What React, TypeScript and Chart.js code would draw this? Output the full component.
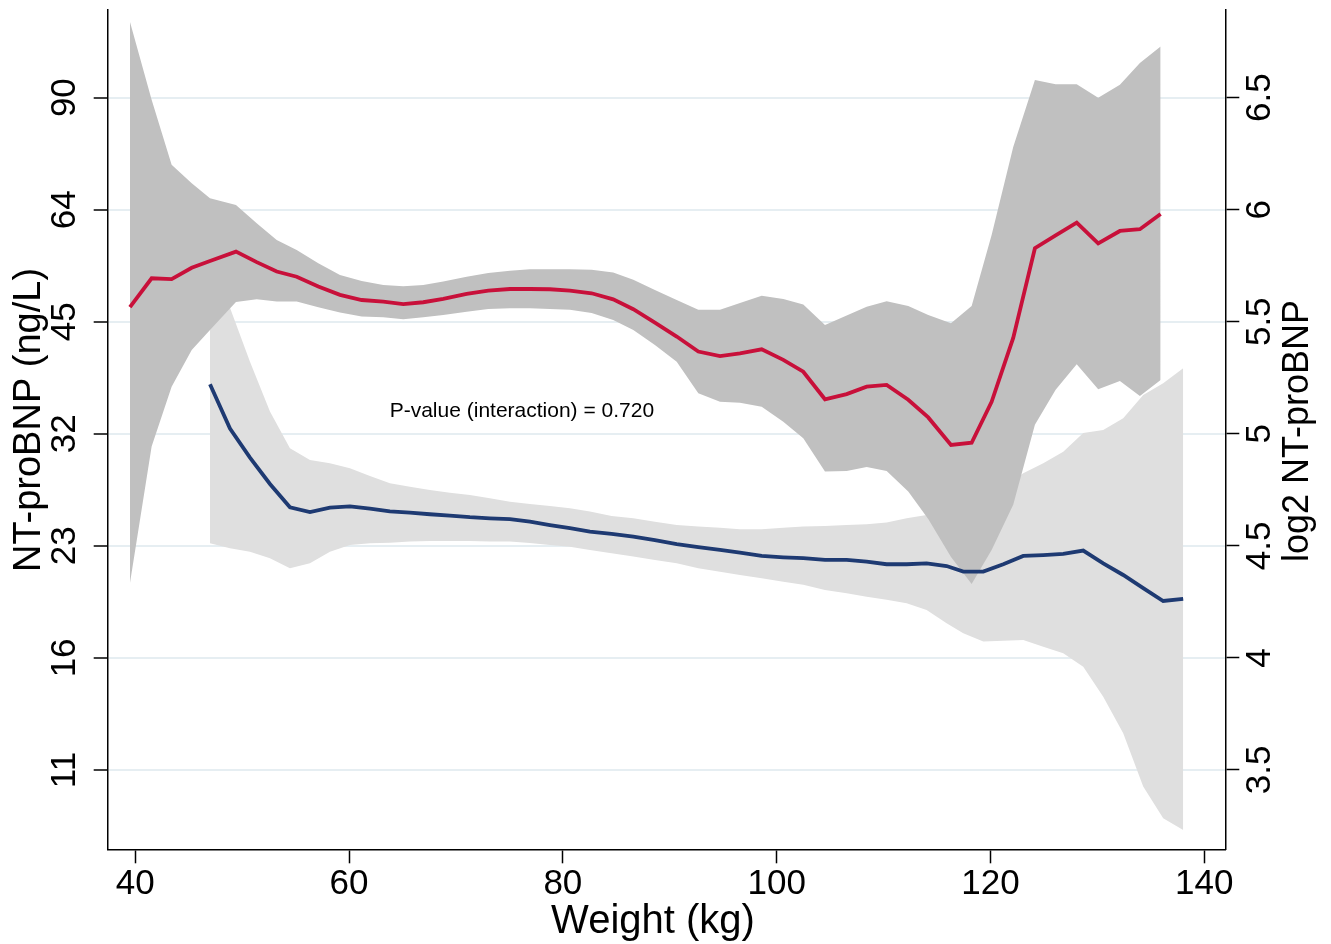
import React, { useEffect, useRef } from "react";
import { Chart, registerables } from "chart.js";

Chart.register(...registerables);

// ---- Data (weight in kg, values on log2 NT-proBNP scale) ----
const redWeight = [39.5, 41.53, 43.4, 45.28, 46.99, 49.42, 51.36, 53.23, 55.1, 57.12, 59.15, 61.18, 63.2, 65.07, 66.94, 68.81, 71.0, 73.02, 75.05, 76.92, 78.79, 80.66, 82.69, 84.71, 86.59, 88.61, 90.65, 92.67, 94.7, 96.57, 98.6, 100.62, 102.49, 104.52, 106.55, 108.42, 110.29, 112.31, 114.18, 116.31, 118.24, 120.11, 122.13, 124.16, 126.1, 128.07, 130.08, 132.11, 133.98, 135.92];
const redLog2 = [5.565, 5.694, 5.69, 5.741, 5.771, 5.813, 5.766, 5.724, 5.701, 5.657, 5.62, 5.597, 5.59, 5.579, 5.587, 5.602, 5.624, 5.639, 5.646, 5.646, 5.645, 5.639, 5.627, 5.6, 5.556, 5.496, 5.434, 5.367, 5.347, 5.359, 5.377, 5.33, 5.277, 5.154, 5.177, 5.21, 5.218, 5.152, 5.073, 4.95, 4.96, 5.143, 5.428, 5.828, 5.885, 5.942, 5.85, 5.905, 5.913, 5.981];
const redLower = [4.333, 4.943, 5.21, 5.374, 5.463, 5.588, 5.6, 5.59, 5.59, 5.565, 5.541, 5.523, 5.52, 5.511, 5.52, 5.53, 5.545, 5.557, 5.56, 5.56, 5.557, 5.553, 5.539, 5.508, 5.463, 5.396, 5.322, 5.181, 5.143, 5.139, 5.121, 5.054, 4.98, 4.832, 4.834, 4.852, 4.834, 4.742, 4.62, 4.45, 4.33, 4.482, 4.683, 5.04, 5.196, 5.31, 5.199, 5.236, 5.169, 5.24];
const redUpper = [6.839, 6.49, 6.2, 6.118, 6.051, 6.021, 5.94, 5.865, 5.82, 5.761, 5.709, 5.682, 5.664, 5.658, 5.664, 5.679, 5.701, 5.718, 5.728, 5.734, 5.734, 5.734, 5.732, 5.72, 5.687, 5.642, 5.597, 5.553, 5.553, 5.584, 5.616, 5.602, 5.577, 5.486, 5.528, 5.567, 5.591, 5.57, 5.53, 5.493, 5.57, 5.887, 6.28, 6.579, 6.56, 6.56, 6.5, 6.557, 6.654, 6.728];

const blueWeight = [46.99, 48.86, 50.73, 52.6, 54.47, 56.34, 58.21, 60.08, 61.95, 63.82, 65.69, 67.56, 69.43, 71.3, 73.17, 75.05, 76.92, 78.79, 80.66, 82.53, 84.56, 86.59, 88.61, 90.65, 92.67, 94.7, 96.57, 98.6, 100.62, 102.49, 104.52, 106.55, 108.42, 110.29, 112.16, 114.03, 115.9, 117.46, 119.33, 121.2, 123.07, 124.94, 126.81, 128.68, 130.55, 132.42, 134.29, 136.16, 138.03];
const blueLog2 = [5.221, 5.023, 4.894, 4.776, 4.672, 4.651, 4.671, 4.676, 4.666, 4.654, 4.648, 4.641, 4.635, 4.628, 4.623, 4.619, 4.608, 4.593, 4.579, 4.563, 4.553, 4.541, 4.526, 4.508, 4.494, 4.482, 4.47, 4.455, 4.449, 4.445, 4.437, 4.437, 4.43, 4.418, 4.418, 4.422, 4.41, 4.385, 4.385, 4.418, 4.455, 4.459, 4.464, 4.479, 4.422, 4.37, 4.311, 4.254, 4.263];
const blueUpper = [5.486, 5.562, 5.321, 5.099, 4.935, 4.883, 4.869, 4.846, 4.812, 4.779, 4.764, 4.749, 4.737, 4.727, 4.712, 4.697, 4.687, 4.678, 4.668, 4.653, 4.633, 4.623, 4.608, 4.593, 4.586, 4.581, 4.574, 4.574, 4.581, 4.586, 4.589, 4.593, 4.596, 4.604, 4.623, 4.638, 4.66, 4.683, 4.718, 4.763, 4.824, 4.869, 4.92, 5.003, 5.017, 5.069, 5.173, 5.226, 5.292];
const blueLower = [4.512, 4.489, 4.474, 4.445, 4.4, 4.422, 4.474, 4.504, 4.512, 4.514, 4.519, 4.522, 4.522, 4.522, 4.519, 4.519, 4.513, 4.504, 4.496, 4.482, 4.467, 4.452, 4.437, 4.422, 4.4, 4.385, 4.37, 4.355, 4.34, 4.326, 4.303, 4.289, 4.273, 4.259, 4.244, 4.214, 4.155, 4.11, 4.073, 4.077, 4.08, 4.05, 4.021, 3.961, 3.827, 3.664, 3.426, 3.284, 3.232];

const weightTicks = [40, 60, 80, 100, 120, 140];
const log2Ticks = [3.5, 4, 4.5, 5, 5.5, 6, 6.5];
const leftTickLabels = ["11", "16", "23", "32", "45", "64", "90"];
const rightTickLabels = ["3.5", "4", "4.5", "5", "5.5", "6", "6.5"];

const xTitle = "Weight (kg)";
const leftTitle = "NT-proBNP (ng/L)";
const rightTitle = "log2 NT-proBNP";
const annotationText = "P-value (interaction) = 0.720";
const annotationWeight = 63.8;
const annotationLog2 = 5.1;

const FONT = '"Liberation Sans", Arial, Helvetica, sans-serif';
const W = 1331;
const H = 944;

const pts = (xs: number[], ys: number[]) => xs.map((x, i) => ({ x, y: ys[i] }));

const textPlugin = {
  id: "customText",
  afterDraw(chart: any) {
    const ctx = chart.ctx as CanvasRenderingContext2D;
    const xs = chart.scales.x;
    const ys = chart.scales.y;
    ctx.save();
    ctx.fillStyle = "#000";
    ctx.textAlign = "center";
    ctx.textBaseline = "middle";
    ctx.font = `35px ${FONT}`;
    weightTicks.forEach((v) => ctx.fillText(String(v), xs.getPixelForValue(v), 884));
    log2Ticks.forEach((v, i) => {
      const py = ys.getPixelForValue(v);
      ctx.save();
      ctx.translate(65, py);
      ctx.rotate(-Math.PI / 2);
      ctx.fillText(leftTickLabels[i], 0, 0);
      ctx.restore();
      ctx.save();
      ctx.translate(1260, py);
      ctx.rotate(-Math.PI / 2);
      ctx.fillText(rightTickLabels[i], 0, 0);
      ctx.restore();
    });
    ctx.font = `40px ${FONT}`;
    ctx.fillText(xTitle, 653, 922);
    ctx.font = `38px ${FONT}`;
    ctx.save();
    ctx.translate(30, 420);
    ctx.rotate(-Math.PI / 2);
    ctx.fillText(leftTitle, 0, 0);
    ctx.restore();
    ctx.font = `36px ${FONT}`;
    ctx.save();
    ctx.translate(1298, 431);
    ctx.rotate(-Math.PI / 2);
    ctx.fillText(rightTitle, 0, 0);
    ctx.restore();
    ctx.font = `21px ${FONT}`;
    ctx.textAlign = "left";
    ctx.fillText(annotationText, xs.getPixelForValue(annotationWeight), ys.getPixelForValue(annotationLog2));
    ctx.restore();
  },
};

export default function App() {
  const ref = useRef<HTMLCanvasElement | null>(null);
  useEffect(() => {
    if (!ref.current) return;
    const setTicks = (vals: number[]) => (axis: any) => {
      axis.ticks = vals.map((v) => ({ value: v }));
    };
    const chart = new Chart(ref.current, {
      type: "line",
      data: {
        datasets: [
          {
            label: "red",
            data: pts(redWeight, redLog2),
            borderColor: "#c8103a",
            borderWidth: 3.8,
            pointRadius: 0,
            fill: false,
            order: 1,
            tension: 0,
          },
          {
            label: "blue",
            data: pts(blueWeight, blueLog2),
            borderColor: "#1e3a72",
            borderWidth: 3.8,
            pointRadius: 0,
            fill: false,
            order: 2,
            tension: 0,
          },
          {
            label: "redUpper",
            data: pts(redWeight, redUpper),
            borderWidth: 0,
            borderColor: "rgba(0,0,0,0)",
            backgroundColor: "#c0c0c0",
            pointRadius: 0,
            fill: "+1",
            order: 3,
          },
          {
            label: "redLower",
            data: pts(redWeight, redLower),
            borderWidth: 0,
            borderColor: "rgba(0,0,0,0)",
            pointRadius: 0,
            fill: false,
            order: 3,
          },
          {
            label: "blueUpper",
            data: pts(blueWeight, blueUpper),
            borderWidth: 0,
            borderColor: "rgba(0,0,0,0)",
            backgroundColor: "#dfdfdf",
            pointRadius: 0,
            fill: "+1",
            order: 4,
          },
          {
            label: "blueLower",
            data: pts(blueWeight, blueLower),
            borderWidth: 0,
            borderColor: "rgba(0,0,0,0)",
            pointRadius: 0,
            fill: false,
            order: 4,
          },
        ],
      },
      options: {
        responsive: false,
        animation: false,
        devicePixelRatio: 1,
        layout: { padding: { top: 10, left: 0, right: 0, bottom: 0 } },
        plugins: {
          legend: { display: false },
          tooltip: { enabled: false },
          filler: { drawTime: "beforeDatasetsDraw" },
        },
        scales: {
          x: {
            type: "linear",
            position: "bottom",
            min: 37.42,
            max: 141.97,
            afterBuildTicks: setTicks(weightTicks),
            ticks: { display: false },
            grid: { drawOnChartArea: false, drawTicks: true, tickLength: 14, tickColor: "#000", tickWidth: 1.5 },
            border: { display: true, color: "#000", width: 1.5 },
            afterFit: (s: any) => {
              s.height = H - 849.3;
            },
          },
          y: {
            type: "linear",
            position: "left",
            min: 3.146,
            max: 6.891,
            afterBuildTicks: setTicks(log2Ticks),
            ticks: { display: false },
            grid: { color: "#e6eef2", lineWidth: 2, drawTicks: true, tickLength: 14, tickColor: "#000", tickWidth: 1.5 },
            border: { display: true, color: "#000", width: 1.5 },
            afterFit: (s: any) => {
              s.width = 107.7;
            },
          },
          y2: {
            type: "linear",
            position: "right",
            min: 3.146,
            max: 6.891,
            afterBuildTicks: setTicks(log2Ticks),
            ticks: { display: false },
            grid: { drawOnChartArea: false, drawTicks: true, tickLength: 14, tickColor: "#000", tickWidth: 1.5 },
            border: { display: true, color: "#000", width: 1.5 },
            afterFit: (s: any) => {
              s.width = W - 1225.3;
            },
          },
        },
      },
      plugins: [textPlugin],
    } as any);
    return () => chart.destroy();
  }, []);
  return (
    <div style={{ position: "absolute", left: 0, top: 0, width: W, height: H, background: "#fff" }}>
      <canvas ref={ref} width={W} height={H} style={{ width: W, height: H, display: "block" }} />
    </div>
  );
}
